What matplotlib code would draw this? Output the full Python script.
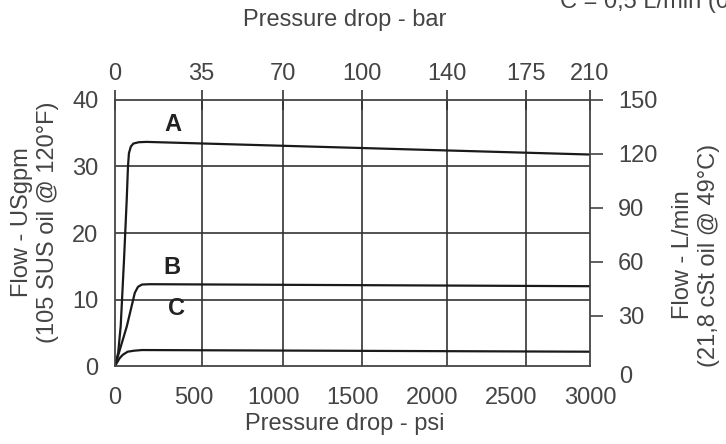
import matplotlib
matplotlib.use('Agg')
import matplotlib.pyplot as plt

# kurvy (psi, USgpm)
a_psi = [0, 20, 36, 57, 74, 82, 88, 100, 116, 150, 200, 3000]
a_gpm = [0, 2, 6, 16, 25, 30, 32, 33.0, 33.45, 33.65, 33.7, 31.8]
b_psi = [0, 40, 75, 110, 125, 145, 170, 220, 3000]
b_gpm = [0, 3.2, 6.0, 9.5, 11.0, 11.9, 12.25, 12.3, 12.0]
c_psi = [0, 15, 30, 50, 80, 120, 170, 3000]
c_gpm = [0, 0.6, 1.2, 1.7, 2.15, 2.3, 2.4, 2.15]

psi_ticks = [0, 500, 1000, 1500, 2000, 2500, 3000]
gpm_ticks = [0, 10, 20, 30, 40]
lpm_ticks = [30, 60, 90, 120, 150]
bar_labels = ['0', '35', '70', '100', '140', '175', '210']
# kde lezi carky baru na ose psi (v puvodnim obrazku nejsou uplne rovnomerne)
bar_pos = [0, 547, 1061, 1562, 2097, 2594, 3000]

txt = '#444444'
fs = 17
plt.rcParams['font.family'] = ['Liberation Sans', 'DejaVu Sans']
plt.rcParams['font.size'] = fs

fig = plt.figure(figsize=(7.26, 4.44), dpi=100)
ax = fig.add_axes([115/726, 1-366/444, 475/726, 266/444])

ax.plot(a_psi, a_gpm, color='#1a1a1a', lw=1.6)
ax.plot(b_psi, b_gpm, color='#1a1a1a', lw=1.6)
ax.plot(c_psi, c_gpm, color='#1a1a1a', lw=1.6)

for lab, x, y in [('A', 366, 36.3), ('B', 360, 14.8), ('C', 390, 8.7)]:
    ax.text(x, y, lab, fontsize=fs, fontweight='bold', color='#222', ha='center', va='center')

ax.set_xlim(0, 3000)
ax.set_ylim(0, 40)
ax.set_xticks(psi_ticks)
ax.set_yticks(gpm_ticks)
ax.tick_params(axis='both', length=0, colors=txt, labelsize=fs)
ax.tick_params(axis='x', pad=15)
ax.tick_params(axis='y', pad=12)

# mrizka
for p in bar_pos[1:-1]:
    ax.axvline(p, color='#333', lw=1.2, zorder=0)
for g in gpm_ticks[1:-1]:
    ax.axhline(g, color='#333', lw=1.2, zorder=0)
for s in ax.spines.values():
    s.set_color('#444')
    s.set_linewidth(1.3)

# horni osa - bar
top = ax.secondary_xaxis('top')
top.set_xticks(bar_pos)
top.set_xticklabels(bar_labels)
top.tick_params(direction='inout', length=14, width=1.2, color='#333', colors=txt, labelsize=fs, pad=4)
top.spines['top'].set_visible(False)

# prava osa - L/min
right = ax.secondary_yaxis('right', functions=(lambda g: 2 + 3.7 * g, lambda l: (l - 2) / 3.7))
right.set_yticks(lpm_ticks)
right.tick_params(direction='out', length=9, width=1.2, color='#444', colors=txt, labelsize=fs, pad=11)
right.spines['right'].set_visible(False)
fig.text(619/726, 1-377/444, '0', color=txt, fontsize=fs, ha='left', va='center')

fig.text(345/726, 1-20/444, 'Pressure drop - bar', color=txt, fontsize=fs, ha='center', va='center')
fig.text(345/726, 1-424/444, 'Pressure drop - psi', color=txt, fontsize=fs, ha='center', va='center')
fig.text(35/726, 1-222/444, 'Flow - USgpm\n(105 SUS oil @ 120°F)', color=txt, fontsize=fs,
         rotation=90, ha='center', va='center', multialignment='center', linespacing=1.2)
fig.text(696/726, 1-255/444, 'Flow - L/min\n(21,8 cSt oil @ 49°C)', color=txt, fontsize=fs,
         rotation=90, ha='center', va='center', multialignment='center', linespacing=1.2)
# oriznuty text v pravem hornim rohu
fig.text(560/726, 1-8/444, 'C = 0,5 L/min (0,13 USgpm)', color=txt, fontsize=fs, ha='left', va='baseline')

fig.savefig('out.png', dpi=100)
